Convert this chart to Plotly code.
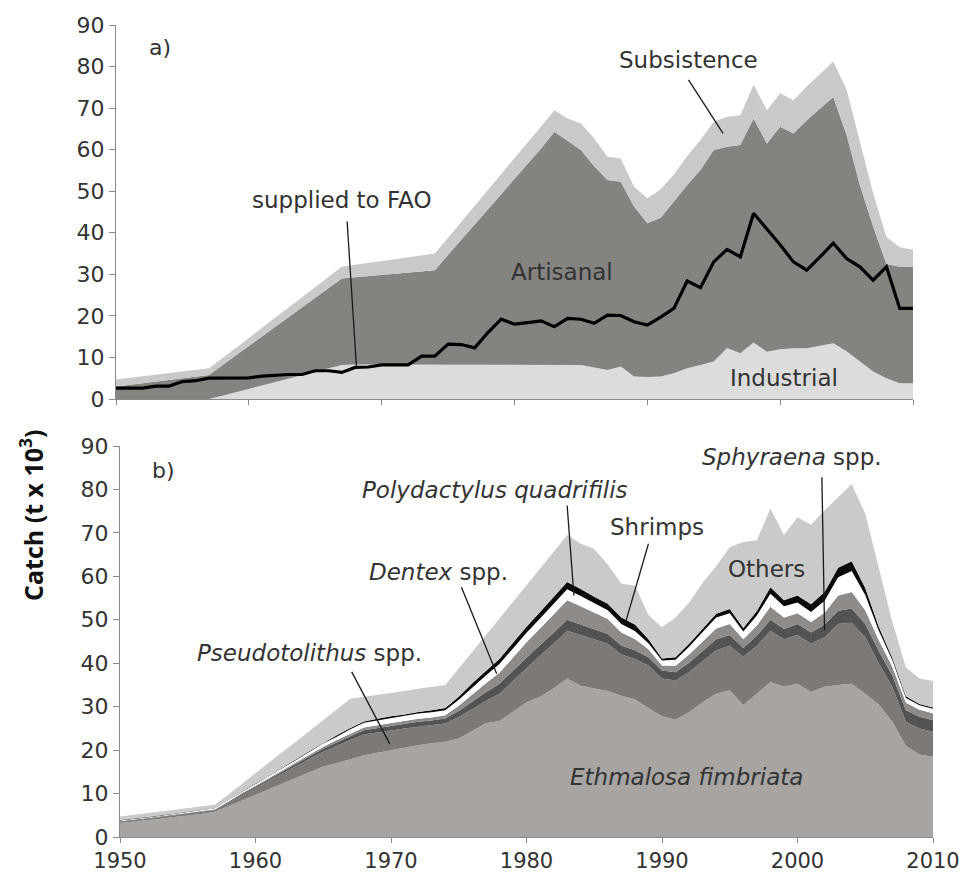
import plotly.graph_objects as go

years = list(range(1950, 2011))

# ---- Panel a) : catch by sector (t x 10^3) ----
industrial = [0, 0, 0, 0, 0, 0, 0, 0,
              0.8, 1.6, 2.5, 3.3, 4.1, 4.9, 5.7, 6.6, 7.4, 8.2,
              8.3, 8.3, 8.3, 8.3, 8.3, 8.3, 8.3, 8.3, 8.3, 8.3, 8.3, 8.3, 8.3, 8.3, 8.3, 8.3, 8.3,
              8.2, 7.6, 7.0, 7.8, 5.4, 5.3, 5.4, 6.2, 7.4, 8.2, 9.0, 12.3, 11.0, 13.6, 11.4,
              12.0, 12.2, 12.2, 12.8, 13.4, 11.5, 9.0, 6.6, 5.0, 3.8, 3.8]
artisanal = [3.0, 3.4, 3.8, 4.2, 4.6, 5.0, 5.4, 5.8,
             7.3, 8.8, 10.3, 11.8, 13.3, 14.8, 16.3, 17.8, 19.3, 20.8,
             21.0, 21.3, 21.6, 21.8, 22.1, 22.4, 22.7, 26.4, 30.0, 33.7, 37.4, 41.0, 44.7, 48.3, 52.0,
             56.0, 53.7, 51.7, 48.4, 45.7, 44.5, 40.9, 37.0, 38.2, 41.3, 44.1, 46.9, 50.9, 48.4, 50.1,
             53.9, 50.1, 53.5, 51.7, 54.9, 57.1, 59.3, 52.0, 42.5, 34.9, 27.5, 28.0, 28.0]
subsistence = [1.7, 1.7, 1.7, 1.7, 1.6, 1.6, 1.6, 1.6,
               1.7, 1.9, 1.9, 2.1, 2.2, 2.3, 2.5, 2.5, 2.7, 2.8,
               3.0, 3.1, 3.3, 3.5, 3.7, 3.8, 4.0, 4.1, 4.3, 4.4, 4.6, 4.8, 4.9, 5.1, 5.3,
               5.2, 5.5, 6.4, 6.7, 5.6, 5.6, 4.8, 6.0, 6.9, 6.5, 7.0, 7.2, 6.8, 7.2, 7.2,
               8.1, 8.0, 8.1, 8.0, 8.1, 8.3, 8.5, 10.9, 10.6, 8.0, 6.5, 4.7, 4.1]
supplied_fao = [2.6, 2.6, 2.6, 3.1, 3.1, 4.2, 4.4, 5.0, 5.0, 5.0,
                5.1, 5.5, 5.7, 5.9, 5.9, 6.8, 6.8, 6.4, 7.6, 7.7,
                8.2, 8.2, 8.2, 10.3, 10.3, 13.2, 13.1, 12.3, 16.0, 19.2,
                18.0, 18.4, 18.8, 17.4, 19.4, 19.2, 18.2, 20.2, 20.1, 18.6,
                17.8, 19.7, 21.8, 28.4, 26.8, 33.0, 36.0, 34.2, 44.7, 40.9,
                37.1, 33.0, 31.0, 34.2, 37.5, 33.8, 31.8, 28.6, 31.8, 21.8, 21.8]

# ---- Panel b) : catch by taxon (t x 10^3) ----
ethmalosa = [3.2, 3.5, 3.9, 4.2, 4.6, 4.9, 5.3, 5.8,
             7.1, 8.4, 9.7, 11.0, 12.3, 13.6, 14.9, 16.2, 17.0, 17.9,
             18.8, 19.4, 20.0, 20.6, 21.1, 21.6, 21.9, 22.7, 24.5, 26.2, 26.7, 28.9, 31.0, 32.3, 34.2,
             36.5, 34.8, 34.2, 33.6, 32.5, 31.7, 29.7, 27.8, 27.0, 28.8, 31.0, 33.0, 33.8, 30.4, 33.0,
             35.7, 34.6, 35.3, 33.4, 34.6, 35.0, 35.3, 33.0, 30.5, 26.5, 21.0, 19.0, 18.5]
pseudotolithus = [0.3, 0.3, 0.3, 0.4, 0.4, 0.5, 0.5, 0.4,
                  0.8, 1.2, 1.6, 1.9, 2.3, 2.7, 3.1, 3.4, 4.0, 4.4,
                  4.8, 4.7, 4.6, 4.4, 4.3, 4.1, 4.2, 4.9, 5.0, 5.1, 6.3, 7.1, 8.0, 9.5, 10.3,
                  11.0, 11.7, 11.3, 10.9, 9.5, 9.3, 9.8, 8.7, 9.0, 9.2, 9.5, 10.0, 10.2, 11.1, 11.0,
                  11.8, 10.9, 11.2, 11.1, 11.4, 14.0, 14.0, 13.0, 9.5, 8.0, 5.5, 6.0, 5.7]
sphyraena = [0.1, 0.1, 0.1, 0.1, 0.1, 0.1, 0.1, 0.1,
             0.2, 0.3, 0.3, 0.4, 0.5, 0.5, 0.6, 0.7, 0.8, 0.9,
             1.0, 1.0, 1.0, 1.0, 1.1, 1.1, 1.2, 1.4, 1.7, 2.0, 2.3, 2.3, 2.4, 2.4, 2.5,
             2.5, 2.4, 2.3, 2.2, 2.1, 2.0, 1.9, 1.8, 1.9, 2.1, 2.3, 2.5, 2.5, 2.0, 2.3,
             2.5, 2.4, 2.5, 2.6, 2.9, 3.1, 3.3, 3.0, 2.8, 2.7, 2.7, 2.7, 2.7]
dentex = [0.1, 0.1, 0.1, 0.1, 0.1, 0.1, 0.1, 0.1,
          0.1, 0.2, 0.2, 0.3, 0.3, 0.4, 0.4, 0.5, 0.5, 0.6,
          0.6, 0.6, 0.6, 0.6, 0.7, 0.7, 0.7, 1.2, 1.7, 2.1, 2.5, 3.0, 3.4, 3.8, 4.2,
          4.5, 4.2, 3.8, 3.5, 3.0, 2.6, 1.8, 1.2, 1.5, 1.9, 2.2, 2.5, 2.5, 2.0, 2.4,
          3.0, 2.6, 2.5, 2.4, 2.7, 3.5, 3.8, 3.2, 2.5, 2.0, 1.7, 1.6, 1.6]
polydactylus = [0.1, 0.1, 0.1, 0.1, 0.1, 0.2, 0.2, 0.2,
                0.3, 0.3, 0.4, 0.4, 0.5, 0.5, 0.6, 0.7, 0.8, 1.0,
                1.1, 1.1, 1.2, 1.2, 1.2, 1.2, 1.2, 1.4, 1.6, 1.8, 2.0, 2.1, 2.2, 2.3, 2.4,
                2.5, 2.4, 2.2, 2.0, 1.9, 1.8, 1.4, 1.1, 1.4, 1.8, 2.2, 2.5, 2.5, 1.8, 2.3,
                3.0, 2.6, 2.5, 2.3, 2.8, 4.2, 4.8, 3.5, 2.2, 1.5, 1.1, 1.0, 1.0]
shrimps = [0.1, 0.1, 0.1, 0.1, 0.1, 0.1, 0.1, 0.1,
           0.1, 0.1, 0.1, 0.1, 0.2, 0.2, 0.2, 0.2, 0.3, 0.3,
           0.3, 0.4, 0.4, 0.4, 0.4, 0.5, 0.5, 0.7, 0.9, 1.0, 1.2, 1.3, 1.4, 1.5, 1.6,
           1.7, 1.6, 1.5, 1.5, 1.5, 1.5, 0.9, 0.5, 0.6, 0.7, 0.8, 0.9, 1.0, 0.8, 1.0,
           1.5, 1.4, 1.6, 1.8, 2.0, 2.2, 2.3, 1.6, 0.9, 0.5, 0.4, 0.3, 0.3]
others = [0.8, 0.9, 0.9, 0.9, 0.8, 0.7, 0.7, 0.7,
          1.2, 1.8, 2.4, 3.1, 3.5, 4.1, 4.7, 5.2, 6.0, 6.7,
          5.7, 5.5, 5.4, 5.4, 5.3, 5.3, 5.3, 6.5, 7.2, 8.2, 9.3, 9.4, 9.5, 9.9, 10.4,
          10.8, 10.4, 11.0, 9.0, 7.8, 9.0, 5.6, 7.2, 9.1, 9.5, 10.5, 10.9, 14.2, 19.8, 16.3,
          18.1, 15.0, 18.0, 18.3, 18.8, 16.2, 17.7, 17.1, 13.7, 8.3, 6.6, 5.9, 6.1]

tick_years = [1950, 1960, 1970, 1980, 1990, 2000, 2010]
tick_catch = list(range(0, 91, 10))

W, H = 964, 872
FONT = "DejaVu Sans"
TXT = "#333333"

fig = go.Figure()

def area(y, color, name, xa, ya, group):
    fig.add_trace(go.Scatter(
        x=years, y=y, name=name, mode="lines", stackgroup=group,
        line=dict(width=0, color=color), fillcolor=color,
        xaxis=xa, yaxis=ya, showlegend=False, hoverinfo="x+y+name"))

# panel a
area(industrial, "#dcdcdc", "Industrial", "x", "y", "a")
area(artisanal, "#858380", "Artisanal", "x", "y", "a")
area(subsistence, "#c9c9c9", "Subsistence", "x", "y", "a")
fig.add_trace(go.Scatter(x=years, y=supplied_fao, mode="lines", name="supplied to FAO",
                         line=dict(color="#000000", width=3.2), xaxis="x", yaxis="y",
                         showlegend=False))

# panel b
area(ethmalosa, "#a7a4a1", "Ethmalosa fimbriata", "x2", "y2", "b")
area(pseudotolithus, "#7c7976", "Pseudotolithus spp.", "x2", "y2", "b")
area(sphyraena, "#555351", "Sphyraena spp.", "x2", "y2", "b")
area(dentex, "#8e8b88", "Dentex spp.", "x2", "y2", "b")
area(polydactylus, "#ffffff", "Polydactylus quadrifilis", "x2", "y2", "b")
area(shrimps, "#0a0a0a", "Shrimps", "x2", "y2", "b")
area(others, "#cacaca", "Others", "x2", "y2", "b")

def axis_style(size, ticklen=6):
    return dict(showgrid=False, zeroline=False, showline=True, linecolor="#8a8a8a",
                linewidth=1, ticks="outside", tickcolor="#8a8a8a", ticklen=ticklen,
                automargin=False,
                tickfont=dict(family=FONT, size=size, color=TXT))

fig.update_layout(
    width=W, height=H, margin=dict(l=0, r=0, t=0, b=0, pad=0),
    paper_bgcolor="white", plot_bgcolor="white",
    xaxis=dict(domain=[116 / W, 913 / W], range=[1950, 2010], anchor="y",
               tickvals=tick_years, showticklabels=False, **axis_style(21, 5)),
    yaxis=dict(domain=[1 - 399 / H, 1 - 25 / H], range=[0, 90], anchor="x",
               tickvals=tick_catch, **axis_style(22)),
    xaxis2=dict(domain=[120 / W, 933 / W], range=[1950, 2010], anchor="y2",
                tickvals=tick_years, **axis_style(21, 5)),
    yaxis2=dict(domain=[1 - 837 / H, 1 - 446 / H], range=[0, 90], anchor="x2",
                tickvals=tick_catch, **axis_style(22)),
)

def label(text, x, y, xa, ya, size=23):
    fig.add_annotation(text=text, x=x, y=y, xref=xa, yref=ya, showarrow=False,
                       font=dict(family=FONT, size=size, color=TXT),
                       xanchor="center", yanchor="middle")

def pointer(x0, y0, x1, y1, xa, ya):
    fig.add_shape(type="line", x0=x0, y0=y0, x1=x1, y1=y1, xref=xa, yref=ya,
                  line=dict(color="#1a1a1a", width=1.3))

# panel a labels
label("a)", 1953.3, 84.7, "x", "y", 22)
label("Subsistence", 1993.1, 81.6, "x", "y")
label("supplied to FAO", 1967.0, 47.9, "x", "y")
label("Artisanal", 1983.6, 30.6, "x", "y")
label("Industrial", 2000.3, 5.1, "x", "y")
pointer(1993.1, 76.8, 1995.7, 63.9, "x", "y")
pointer(1967.4, 42.7, 1968.1, 7.8, "x", "y")

# panel b labels
label("b)", 1953.2, 84.4, "x2", "y2", 22)
label("<i>Polydactylus quadrifilis</i>", 1977.7, 79.8, "x2", "y2")
label("Shrimps", 1989.6, 71.3, "x2", "y2")
label("<i>Dentex</i> spp.", 1973.5, 60.9, "x2", "y2")
label("<i>Pseudotolithus</i> spp.", 1964.0, 42.3, "x2", "y2")
label("<i>Sphyraena</i> spp.", 1999.6, 87.4, "x2", "y2")
label("Others", 1997.7, 61.8, "x2", "y2")
label("<i>Ethmalosa fimbriata</i>", 1991.8, 13.8, "x2", "y2")
pointer(1983.0, 76.3, 1983.5, 55.6, "x2", "y2")
pointer(1989.0, 67.5, 1987.3, 49.3, "x2", "y2")
pointer(1975.2, 57.5, 1977.8, 37.6, "x2", "y2")
pointer(1967.1, 38.0, 1969.9, 21.5, "x2", "y2")
pointer(2001.8, 82.8, 2002.0, 47.6, "x2", "y2")

# y axis title
fig.add_annotation(text="<b>Catch (t x 10<sup>3</sup>)</b>", x=31 / W, y=1 - 515 / H,
                   xref="paper", yref="paper", showarrow=False, textangle=-90,
                   font=dict(family="Open Sans", size=25, color="#111111"),
                   xanchor="center", yanchor="middle")

fig.write_html("out.html", config={"displayModeBar": False},
               post_script="document.body.style.margin='0px';"
                           "document.body.style.overflow='hidden';")
